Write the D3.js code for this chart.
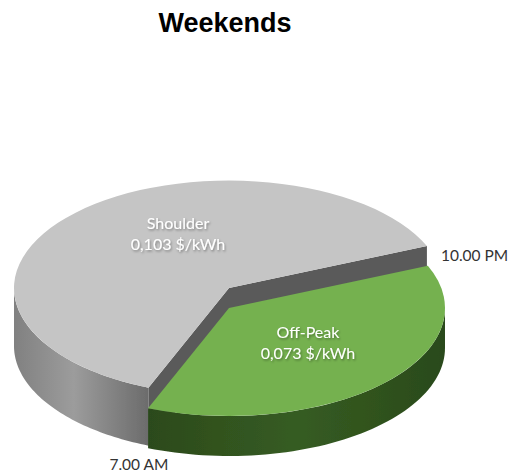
<!DOCTYPE html>
<html>
<head>
<meta charset="utf-8">
<script src="https://cdn.jsdelivr.net/npm/d3@7"></script>
<style>
  html, body { margin: 0; padding: 0; background: #fff; }
  svg { display: block; }
  .slice-label { font-family: Lato, "Open Sans", sans-serif; font-size: 16px; fill: #fff; text-anchor: middle; filter: url(#label-shadow); }
  .time-label { font-family: Lato, "Open Sans", sans-serif; font-size: 15.5px; fill: #333; }
  .title { font-family: "Liberation Sans", Arial, sans-serif; font-size: 27px; font-weight: bold; fill: #000; text-anchor: middle; }
</style>
</head>
<body>
<svg id="chart" width="509" height="474"></svg>
<script>
// tariff periods, hours per day (the pie is a 24 hour clock)
let periods = ["Off-Peak", "Shoulder"];
let hours = [9, 15];
let rates = ["0,073 $/kWh", "0,103 $/kWh"];
let boundaryLabels = ["10.00 PM", "7.00 AM"];
let chartTitle = "Weekends";

let tilt = 0.5;
let startDeg = 67; // where off-peak starts, clockwise from north

// the two slices are pulled apart and have different thickness
let layout = {
  "Off-Peak": { cx: 229, cy: 308, r: 216, depth: 40, top: "#74b14f", labelX: 308, labelY: 338 },
  "Shoulder": { cx: 229, cy: 288, r: 215, depth: 58, top: "#c5c5c5", labelX: 178, labelY: 229 }
};

let svg = d3.select("#chart");
let defs = svg.append("defs");

let shadow = defs.append("filter").attr("id", "label-shadow")
  .attr("x", "-20%").attr("y", "-40%").attr("width", "140%").attr("height", "180%");
shadow.append("feGaussianBlur").attr("stdDeviation", 0.35).attr("result", "txt");
shadow.append("feDropShadow")
  .attr("in", "txt")
  .attr("dx", 1).attr("dy", 1.5).attr("stdDeviation", 1.3)
  .attr("flood-color", "#000").attr("flood-opacity", 0.35);

let soft = defs.append("filter").attr("id", "soft");
soft.append("feGaussianBlur").attr("stdDeviation", 0.5);

function addGradient(id, x1, x2, stops) {
  defs.append("linearGradient").attr("id", id)
    .attr("gradientUnits", "userSpaceOnUse")
    .attr("x1", x1).attr("x2", x2).attr("y1", 0).attr("y2", 0)
    .selectAll("stop")
    .data(stops)
    .join("stop")
    .attr("offset", d => d[0])
    .attr("stop-color", d => d[1]);
}
addGradient("side-gray", 13, 148, [[0, "#808080"], [0.45, "#9c9c9c"], [1, "#6c6c6c"]]);
addGradient("side-green", 148, 445, [[0, "#2c4a1c"], [0.5, "#365c22"], [1, "#2a4a1a"]]);

let toRad = d => d * Math.PI / 180;

let pie = d3.pie()
  .value(d => d)
  .sort(null)
  .startAngle(toRad(startDeg))
  .endAngle(toRad(startDeg + 360));
let slices = pie(hours);

// point on the tilted rim, angle clockwise from north
function rim(a, box) {
  return [box.cx + box.r * Math.sin(a), box.cy - box.r * Math.cos(a) * tilt];
}

let wallArea = depth => d3.area()
  .x(d => d[0])
  .y0(d => d[1])
  .y1(d => d[1] + depth);

// only the front half of the rim can be seen
function frontAngles(d) {
  let out = [];
  [0, 2].forEach(k => {
    let lo = Math.max(d.startAngle, Math.PI / 2 + k * Math.PI);
    let hi = Math.min(d.endAngle, 3 * Math.PI / 2 + k * Math.PI);
    if (hi > lo) d3.range(0, 61).forEach(i => out.push(lo + (hi - lo) * i / 60));
  });
  return out;
}

let plot = svg.append("g").attr("filter", "url(#soft)");

// shoulder first, off-peak sits in front of it
[slices[1], slices[0]].forEach(d => {
  let name = periods[d.index];
  let box = layout[name];
  let area = wallArea(box.depth);
  let arc = d3.arc().innerRadius(0).outerRadius(box.r);

  plot.append("path")
    .attr("d", area(frontAngles(d).map(a => rim(a, box))))
    .attr("fill", name === "Shoulder" ? "url(#side-gray)" : "url(#side-green)");

  // the cut faces, off-peak covers most of them
  if (name === "Shoulder") {
    plot.append("path")
      .attr("d", area([rim(d.startAngle, box), [box.cx, box.cy], rim(d.endAngle, box)]))
      .attr("fill", "#5a5a5a");
  }

  plot.append("path")
    .attr("d", arc(d))
    .attr("transform", `translate(${box.cx},${box.cy}) scale(1,${tilt})`)
    .attr("fill", box.top);
});

// labels on the slices
slices.forEach(d => {
  let name = periods[d.index];
  let box = layout[name];
  let label = svg.append("text").attr("class", "slice-label");
  label.append("tspan").attr("x", box.labelX).attr("y", box.labelY).text(name);
  label.append("tspan").attr("x", box.labelX).attr("y", box.labelY + 21).text(rates[d.index]);
});

// time labels next to the boundaries
let pmPoint = rim(slices[0].startAngle, layout["Shoulder"]);
let amPoint = rim(slices[0].endAngle, layout["Shoulder"]);
svg.append("text").attr("class", "time-label")
  .attr("x", pmPoint[0] + 14).attr("y", pmPoint[1] + 15).text(boundaryLabels[0]);
svg.append("text").attr("class", "time-label")
  .attr("x", amPoint[0] - 39).attr("y", amPoint[1] + 82).text(boundaryLabels[1]);

svg.append("text").attr("class", "title")
  .attr("x", 225).attr("y", 32).text(chartTitle);
</script>
</body>
</html>
